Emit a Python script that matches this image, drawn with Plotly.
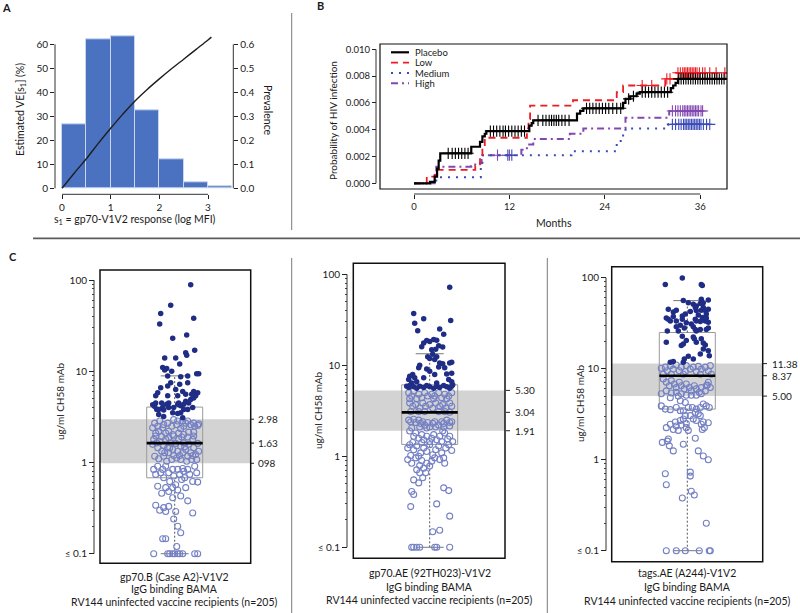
import math
import plotly.graph_objects as go

W, H = 800, 613
FONT = "Lato"

# ---------------- Panel A data ----------------
a_bin_edges = [0, 0.5, 1.0, 1.5, 2.0, 2.5, 3.0, 3.5]
a_prevalence = [0.267, 0.621, 0.633, 0.326, 0.121, 0.024, 0.007]
a_curve_s1 = [0, 0.25, 0.5, 0.75, 1.0, 1.25, 1.5, 1.75, 2.0, 2.25, 2.5, 2.75, 3.0, 3.07]
a_curve_ve = [0, 6.3, 12.3, 18.8, 25.0, 30.9, 36.4, 41.2, 45.6, 49.8, 53.8, 57.8, 61.8, 63.0]
a_x_ticks = [0, 1, 2, 3]
a_ve_ticks = [0, 10, 20, 30, 40, 50, 60]
a_prev_ticks = [0.0, 0.1, 0.2, 0.3, 0.4, 0.5, 0.6]

# ---------------- Panel B data (Kaplan-Meier steps) ----------------
b_month_ticks = [0, 12, 24, 36]
b_prob_ticks = [0.0, 0.002, 0.004, 0.006, 0.008, 0.010]
placebo_t = [0, 2.0, 2.6, 2.9, 3.1, 3.3, 7.2, 8.3, 8.6, 8.9, 9.1, 14.5, 14.8, 15.0, 20.5, 20.9, 21.3,
             26.3, 26.6, 27.2, 28.0, 28.4, 32.3, 32.6, 32.9, 33.2, 39.7]
placebo_p = [0, 0.0001, 0.0005, 0.0011, 0.0017, 0.00224, 0.00273, 0.0031, 0.0035, 0.0037, 0.0039,
             0.0043, 0.0045, 0.0047, 0.0052, 0.0054, 0.0056, 0.0060, 0.0063, 0.0065, 0.0067, 0.0068,
             0.0071, 0.0073, 0.0075, 0.0078, 0.0078]
low_t = [0, 1.6, 2.7, 7.7, 8.3, 8.6, 8.9, 14.2, 14.4, 14.6, 20.0, 25.5, 26.3, 31.6, 33.0, 39.7]
low_p = [0, 0.0005, 0.0010, 0.0013, 0.0020, 0.0027, 0.0034, 0.0041, 0.0048, 0.0058, 0.0062, 0.0068,
         0.0073, 0.0078, 0.00825, 0.00825]
medium_t = [0, 2.8, 8.4, 8.6, 19.8, 25.5, 26.0, 26.3, 26.6, 32.0, 37.4]
medium_p = [0, 0.00045, 0.0012, 0.0021, 0.0024, 0.0030, 0.0035, 0.0038, 0.0041, 0.0044, 0.0044]
high_t = [0, 2.6, 2.8, 7.2, 7.7, 8.5, 13.5, 14.2, 15.0, 19.6, 21.3, 26.6, 32.1, 36.4]
high_p = [0, 0.0009, 0.00124, 0.0013, 0.0015, 0.0021, 0.0025, 0.0029, 0.0033, 0.0037, 0.0041,
          0.0049, 0.0054, 0.0054]
placebo_cens = [4.3, 4.8, 5.2, 5.6, 6.0, 6.4, 6.8, 9.6, 10.0, 10.4, 10.8, 11.2, 11.5, 11.9, 12.3, 12.7,
                13.1, 13.5, 13.9, 15.6, 16.2, 16.6, 17.0, 17.3, 17.6, 17.9, 18.2, 18.6, 19.0, 19.5,
                21.7, 22.1, 22.5, 22.9, 23.3, 23.7, 24.1, 24.5, 25.0, 25.5, 26.0, 27.0, 27.6, 28.7,
                29.1, 29.5, 29.9, 30.3, 30.7, 31.1, 31.5, 31.9, 33.3, 33.6, 33.9, 34.2, 34.5, 34.8,
                35.1, 35.4, 35.7, 36.0, 36.3, 36.6, 36.9, 37.2, 37.5, 37.8, 38.1, 38.4, 38.7, 39.0]
low_cens = [28.7, 29.9, 31.8, 32.2, 33.2, 33.5, 33.8, 34.0, 34.2, 34.4, 34.6, 34.8, 35.0, 35.2, 35.4,
            35.6, 35.9, 36.3, 36.6, 37.2, 38.0, 39.1]
medium_cens = [11.8, 12.3, 32.5, 32.9, 33.3, 33.6, 33.9, 34.1, 34.3, 34.5, 34.7, 34.9, 35.1, 35.3,
               35.5, 35.7, 35.9, 36.1, 36.4, 36.8, 37.2]
high_cens = [10.5, 12.0, 32.5, 32.9, 33.2, 33.5, 33.8, 34.0, 34.2, 34.4, 34.6, 34.8, 35.0, 35.2,
             35.4, 35.6, 35.8, 36.1, 36.3]
b_groups = ["Placebo", "Low", "Medium", "High"]

# ---------------- Panel C data: (jitter, ug/ml) ----------------
c1_points = [
    (16, 89), (-4, 53), (-14, 43), (-15, 33), (19, 38), (12, 25), (-2, 23), (20, 17), (11, 16), (12, 15),
    (1, 14), (-10, 14), (5, 12), (-12, 11), (-8, 10.7), (-3, 10), (-10, 10.3), (22, 9.4), (24, 9.4), (-7, 8.9),
    (6, 8.7), (13, 8.9), (-17, 5.8), (-14, 6.6), (-7, 6.9), (-4, 7.5), (1, 6.3), (5, 7.2), (8, 6.0), (11, 5.6),
    (13, 7.5), (17, 5.6), (19, 6.0), (23, 5.8), (-7, 5.4), (-19, 5.4), (3, 5.4), (-22, 4.3), (-20, 4.1), (-18, 3.8),
    (-16, 3.8), (-12, 4.0), (-11, 3.75), (-8, 4.35), (-6, 4.0), (-2, 3.5), (-1, 4.0), (3, 4.35), (4, 4.5), (6, 4.2),
    (9, 4.35), (11, 4.7), (13, 3.8), (14, 4.5), (16, 4.9), (19, 5.1), (21, 5.4), (-16, 3.35), (-11, 3.2), (6, 3.5),
    (9, 3.8), (-6, 4.5), (-13, 4.5), (18, 4.0), (-19, 4.5), (3, 3.45), (8, 3.1),
    (-20, 2.7), (-17, 2.5), (-15, 2.85), (-12, 2.4), (-11, 2.6), (-7, 2.7), (-6, 2.2), (-3, 2.5), (-1, 2.95), (2, 2.6),
    (3, 2.85), (6, 2.35), (9, 2.5), (11, 2.7), (13, 2.85), (16, 2.6), (19, 2.7), (20, 2.5), (23, 2.55), (-19, 2.1),
    (-16, 2.2), (-9, 2.1), (-2, 2.03), (4, 2.1), (9, 2.03), (14, 2.15), (19, 2.15), (24, 2.65), (-22, 2.4), (8, 2.85),
    (-22, 1.58), (-21, 1.79), (-18, 1.64), (-17, 1.45), (-15, 1.7), (-13, 1.33), (-11, 1.54), (-9, 1.79), (-7, 1.45), (-6, 1.28),
    (-4, 1.64), (-2, 1.39), (-1, 1.19), (1, 1.62), (3, 1.33), (4, 1.79), (6, 1.51), (8, 1.28), (9, 1.64), (11, 1.39),
    (13, 1.17), (14, 1.58), (16, 1.28), (18, 1.79), (19, 1.45), (21, 1.22), (23, 1.62), (24, 1.33), (-20, 1.17), (-16, 1.1),
    (-11, 1.17), (-8, 1.03), (-3, 1.08), (2, 1.12), (6, 1.08), (12, 1.03), (17, 1.08), (22, 1.08), (-19, 1.95), (-13, 1.92),
    (-6, 1.87), (-1, 1.95), (7, 1.9), (13, 1.9), (19, 1.95), (-10, 1.28), (-5, 1.45), (5, 1.19), (10, 1.49), (18, 1.19),
    (-21, 0.84), (-19, 0.74), (-17, 0.91), (-14, 0.77), (-12, 0.84), (-11, 0.68), (-9, 0.91), (-6, 0.77), (-5, 0.62), (-2, 0.84),
    (-1, 0.71), (1, 0.57), (3, 0.84), (5, 0.74), (7, 0.65), (9, 0.8), (10, 0.68), (13, 0.84), (15, 0.74), (18, 0.62),
    (20, 0.91), (22, 0.77), (-17, 0.55), (-9, 0.53), (3, 0.5), (11, 0.53), (23, 0.61), (-6, 0.48), (8, 0.86), (-2, 0.53),
    (-19, 0.34), (-15, 0.3), (-11, 0.32), (-9, 0.29), (-6, 0.33), (-2, 0.41), (1, 0.29), (13, 0.38), (18, 0.28), (-13, 0.46),
    (6, 0.43), (-1, 0.24), (-12, 0.146), (-9, 0.146), (3, 0.2), (6, 0.17), (2, 0.12),
    (-21, 0.1), (-7, 0.1), (-5, 0.1), (-2, 0.1), (0, 0.1), (3, 0.1), (5, 0.1), (8, 0.1), (20, 0.1), (23, 0.1),
]
c2_points = [
    (20, 72), (-16, 37), (-6, 32.5), (-15, 29), (21, 31), (-12, 24), (10, 25), (14, 22), (-8, 16), (-6, 17.6),
    (-3, 18.7), (0, 18.3), (4, 19.2), (7, 18.8), (9, 16.4), (13, 15.9), (6, 15), (2, 14.8), (-2, 12.4), (0, 11.9),
    (3, 13.2), (5, 11.6), (7, 12.4), (10, 10.6), (13, 10.4), (20, 10.6), (22, 10.8), (-10, 10), (-11, 9.4), (-3, 9.1),
    (0, 8.6), (9, 9.6), (15, 9.4), (17, 8.0), (22, 8.2), (-17, 7.9), (-20, 7.6), (-15, 7.3), (-6, 7.3), (5, 7.9),
    (-21, 7.0), (-18, 6.4), (-13, 6.6), (7, 6.4), (19, 7.0), (22, 6.6), (23, 6.1),
    (-23, 5.9), (-21, 5.7), (-20, 6.0), (-16, 5.8), (-13, 5.6), (-10, 5.9), (-6, 5.7), (-3, 6.0), (0, 5.8), (4, 5.6),
    (7, 5.9), (10, 5.7), (14, 6.0), (17, 5.8), (20, 5.6), (22, 5.9),
    (-21, 5.0), (-18, 4.6), (-16, 5.2), (-11, 4.8), (-8, 4.4), (-5, 5.0), (-2, 4.6), (2, 4.8), (5, 4.6), (9, 5.0),
    (12, 4.4), (15, 4.8), (19, 4.6), (22, 5.0), (-20, 4.3), (-13, 4.3), (4, 4.3), (17, 4.3),
    (-20, 3.85), (-17, 3.55), (-14, 3.7), (-10, 3.4), (-7, 3.85), (-4, 3.55), (0, 3.7), (3, 3.4), (6, 3.85), (10, 3.55),
    (13, 3.7), (16, 3.4), (20, 3.85), (22, 3.55), (-19, 3.1), (-11, 3.1), (-5, 3.1), (9, 3.1), (15, 3.1), (20, 3.05),
    (-21, 2.5), (-19, 2.4), (-16, 2.55), (-14, 2.35), (-11, 2.5), (-9, 2.3), (-7, 2.4), (-5, 2.2), (-2, 2.35), (0, 2.1),
    (3, 2.3), (5, 2.4), (9, 2.2), (12, 2.4), (14, 2.3), (17, 2.5), (20, 2.35), (22, 2.4), (-18, 2.05), (-10, 2.1),
    (-3, 2.05), (6, 2.1), (14, 2.1), (20, 2.15),
    (-20, 1.9), (-16, 1.66), (-14, 1.8), (-11, 1.58), (-8, 1.73), (-6, 1.52), (-3, 1.66), (0, 1.45), (2, 1.58), (4, 1.73),
    (7, 1.52), (10, 1.66), (12, 1.45), (15, 1.8), (18, 1.55), (20, 1.66), (23, 1.45), (-17, 1.42), (-8, 1.42), (13, 1.9),
    (-22, 1.23), (-20, 1.34), (-16, 1.18), (-13, 1.3), (-9, 1.09), (-6, 1.23), (-3, 1.13), (0, 1.34), (3, 1.04), (6, 1.18),
    (9, 1.3), (12, 1.09), (16, 1.23), (19, 1.34), (22, 1.16), (-19, 1.02), (-11, 1.0),
    (-22, 0.92), (-18, 0.84), (-14, 0.96), (-10, 0.79), (-8, 0.9), (-6, 0.74), (-3, 0.84), (0, 0.78), (2, 0.88), (5, 0.96),
    (10, 0.92), (14, 0.96), (15, 0.84), (-10, 0.66), (-13, 0.71), (-16, 0.55), (-11, 0.51), (-4, 0.66), (-7, 0.58),
    (-18, 0.41), (-16, 0.38), (-19, 0.28), (7, 0.3), (14, 0.45), (19, 0.42),
    (3, 0.148), (10, 0.154), (20, 0.22),
    (-18, 0.1), (-16, 0.1), (-13, 0.1), (-10, 0.1), (5, 0.1), (7, 0.1), (20, 0.1),
]
c3_points = [
    (-22, 84), (-5, 99), (14, 84), (15, 82), (-4, 56), (1, 53), (6, 51), (9, 49), (13, 52), (14, 58),
    (16, 53), (21, 57), (-19, 45), (-14, 42), (-11, 44), (-5, 38), (-2, 40), (3, 42.5), (8, 47), (9, 43.5),
    (11, 39), (14, 44), (16, 47), (18, 43.5), (19, 40), (21, 45), (-21, 36), (-19, 35), (-17, 33.5), (-14, 37.5),
    (-11, 33.5), (-7, 30), (-5, 35), (-1, 32), (4, 31), (8, 35), (9, 33.5), (13, 33), (15, 36.5), (18, 33.5),
    (19, 36), (21, 32.3), (-20, 26), (-11, 29), (-9, 26), (-3, 28), (6, 29), (8, 27), (9, 26), (13, 27),
    (19, 27), (21, 28), (-21, 19.5), (-6, 18), (-4, 18.7), (-1, 20.4), (6, 22.3), (7, 21.3), (9, 19.5), (14, 21.3),
    (16, 19.2), (18, 18.2), (21, 15.8), (-5, 22.8), (-17, 11.8), (-14, 12), (-3, 12.8), (1, 13.7), (6, 12.8), (13, 14.5),
    (16, 16.5), (22, 13.9), (-4, 11.8),
    (-26, 10.1), (-22, 10.4), (-20, 9.5), (-17, 10.8), (-14, 9.9), (-11, 11.0), (-8, 9.5), (-6, 10.4), (-2, 9.3), (-1, 10.8),
    (3, 9.9), (6, 10.4), (9, 9.3), (11, 10.6), (14, 9.9), (18, 10.4), (21, 9.5), (23, 10.8), (24, 8.7), (-24, 8.7),
    (-16, 8.7), (-4, 8.7), (13, 8.7),
    (-24, 7.7), (-21, 7.1), (-18, 6.5), (-16, 7.4), (-13, 6.8), (-11, 6.2), (-8, 7.1), (-6, 6.5), (-3, 6.0), (-1, 6.8),
    (2, 6.2), (4, 5.7), (7, 6.5), (9, 6.0), (12, 5.5), (14, 6.2), (18, 5.7), (20, 6.6), (23, 6.2), (-21, 5.7),
    (-16, 5.4), (-11, 5.5), (-6, 5.3), (-1, 5.1), (4, 5.1), (9, 5.1), (14, 5.3), (-26, 5.3), (-17, 4.8), (-9, 5.0),
    (19, 6.5), (21, 7.1),
    (-26, 3.9), (-22, 3.6), (-17, 3.55), (-11, 3.75), (-7, 3.45), (-4, 3.45), (1, 3.75), (5, 3.75), (9, 3.6), (13, 3.75),
    (16, 4.1), (19, 3.9), (22, 3.75), (-2, 4.25), (-7, 4.45),
    (-21, 2.25), (-17, 2.45), (-12, 2.6), (-11, 2.35), (-9, 2.1), (-7, 2.7), (-6, 2.4), (-4, 2.8), (-1, 2.5), (-1, 2.25),
    (1, 2.1), (3, 3.05), (6, 2.8), (9, 2.7), (11, 3.2), (13, 3.05), (14, 2.45), (16, 2.6), (17, 2.25), (21, 2.55),
    (-2, 3.05), (8, 3.3), (-14, 2.15), (15, 2.15),
    (-20, 1.6), (-18, 1.42), (-14, 1.25), (-4, 1.48), (8, 1.72), (11, 1.25), (16, 1.1), (21, 1.0), (-25, 1.55), (-19, 1.69),
    (-22, 0.7), (-21, 0.53), (3, 0.73), (3, 0.66), (4, 0.45), (7, 0.41), (-5, 0.38),
    (19, 0.2),
    (-21, 0.1), (-11, 0.1), (-2, 0.1), (12, 0.1), (22, 0.1), (23, 0.1),
]
# box statistics: q1, median, q3, lower whisker, upper whisker
c1_box = [0.68, 1.63, 4.05, 0.1, 8.9]
c2_box = [1.35, 3.04, 6.1, 0.1, 13.4]
c3_box = [3.6, 8.37, 25.0, 0.1, 56.0]
c1_band = [0.98, 1.63, 2.98]
c2_band = [1.91, 3.04, 5.30]
c3_band = [5.00, 8.37, 11.38]
c1_band_labels = ["098", "1.63", "2.98"]
c2_band_labels = ["1.91", "3.04", "5.30"]
c3_band_labels = ["5.00", "8.37", "11.38"]
c_captions = [
    ["gp70.B (Case A2)-V1V2", "IgG binding BAMA", "RV144 uninfected vaccine recipients (n=205)"],
    ["gp70.AE (92TH023)-V1V2", "IgG binding BAMA", "RV144 uninfected vaccine recipients (n=205)"],
    ["tags.AE (A244)-V1V2", "IgG binding BAMA", "RV144 uninfected vaccine recipients (n=205)"],
]
c_y_tickvals = [0.1, 1, 10, 100]
c_y_ticktext = ["≤ 0.1", "1", "10", "100"]


def px(x):
    return x / W


def py(y):
    return 1 - y / H


fig = go.Figure()
shapes = []
annotations = []


def text(x, y, s, size=10, angle=0, xanchor="center", yanchor="middle", bold=False,
         xref="paper", yref="paper", xv=None, yv=None):
    annotations.append(dict(x=px(x) if xv is None else xv, y=py(y) if yv is None else yv,
                            xref=xref, yref=yref, text=("<b>%s</b>" % s) if bold else s,
                            showarrow=False, textangle=angle, xanchor=xanchor, yanchor=yanchor,
                            font=dict(family=FONT, size=size, color="#1a1a1a")))


def pline(x0, y0, x1, y1, color="#333", width=1, dash=None, xref="paper", yref="paper"):
    d = dict(type="line", x0=x0, y0=y0, x1=x1, y1=y1, xref=xref, yref=yref,
             line=dict(color=color, width=width))
    if dash:
        d["line"]["dash"] = dash
    shapes.append(d)


axis_common = dict(showgrid=False, zeroline=False, showline=False, ticks="outside", ticklen=4,
                   tickcolor="#222", tickwidth=1, tickfont=dict(family=FONT, size=10, color="#1a1a1a"))

# ---------------- Panel A ----------------
centers = [(a_bin_edges[i] + a_bin_edges[i + 1]) / 2 for i in range(len(a_prevalence))]
widths = [a_bin_edges[i + 1] - a_bin_edges[i] for i in range(len(a_prevalence))]
fig.add_trace(go.Bar(x=centers, y=a_prevalence, width=widths, xaxis="x", yaxis="y",
                     marker=dict(color="#4a72c0", line=dict(color="#c9d6ee", width=1))))
fig.add_trace(go.Scatter(x=a_curve_s1, y=a_curve_ve, xaxis="x", yaxis="y2", mode="lines",
                         line=dict(color="#1e1e1e", width=1.4, shape="spline")))
pline(0, py(194.3), 3, py(194.3), xref="x")
pline(px(55), 0, px(55), 60, yref="y2")
pline(px(233.3), 0, px(233.3), 0.6, yref="y")
text(21, 110, "Estimated VE[s<sub>1</sub>] (%)", size=10.5, angle=-90)
text(268, 110, "Prevalence", size=10.5, angle=90)
text(135, 220, "s<sub>1</sub> = gp70-V1V2 response (log MFI)", size=10.5)
text(6, 7, "A", size=11, bold=True)

# ---------------- Panel B ----------------
def step_at(ts, vs, t):
    v = vs[0]
    for ti, vi in zip(ts, vs):
        if ti <= t:
            v = vi
    return v


b_series = [
    (placebo_t, placebo_p, placebo_cens, "#000000", 2.2, None),
    (low_t, low_p, low_cens, "#ee1c24", 1.8, "7px,5px"),
    (medium_t, medium_p, medium_cens, "#3b4bb8", 2.0, "2px,6px"),
    (high_t, high_p, high_cens, "#8348b0", 2.0, "7px,4px,2px,4px"),
]
for ts, vs, cens, col, lw, dash in b_series[::-1]:
    ln = dict(color=col, width=lw, shape="hv")
    if dash:
        ln["dash"] = dash
    fig.add_trace(go.Scatter(x=ts, y=vs, xaxis="x2", yaxis="y3", mode="lines", line=ln))
    fig.add_trace(go.Scatter(x=cens, y=[step_at(ts, vs, t) for t in cens], xaxis="x2", yaxis="y3",
                             mode="markers", marker=dict(symbol="cross-thin", size=8,
                                                         line=dict(color=col, width=1.1))))
shapes.append(dict(type="rect", xref="x2 domain", yref="y3 domain", x0=0, x1=1, y0=0, y1=1,
                   line=dict(color="#111", width=1.2)))
pline(0, py(194), 36, py(194), xref="x2")
pline(px(376), 0, px(376), 0.010, yref="y3")
for i, (name, s) in enumerate(zip(b_groups, b_series)):
    yy = 52.3 + i * 10.35
    pline(px(391), py(yy), px(409), py(yy), color=s[3], width=s[4], dash=s[5])
    text(413, yy, name, size=9.5, xanchor="left")
text(333, 121, "Probability of HIV infection", size=10, angle=-90)
text(554, 223, "Months", size=10.5)
text(320, 6, "B", size=11, bold=True)

# separators
pline(px(33), py(238.3), px(800), py(238.3), color="#5c5c5c", width=1.8)
pline(px(291.7), py(13), px(291.7), py(230), color="#7a7a7a", width=1)
pline(px(291.7), py(258), px(291.7), py(613), color="#7a7a7a", width=1)
pline(px(547.3), py(258), px(547.3), py(613), color="#7a7a7a", width=1)
text(12.7, 256.7, "C", size=11, bold=True)

# ---------------- Panel C ----------------
minor_vals = [m * d for d in (0.1, 1, 10) for m in range(2, 10)]
c_panels = [
    dict(pts=c1_points, box=c1_box, band=c1_band, labels=c1_band_labels, cap=c_captions[0],
         xdom=(100, 250.7), ydom=(270, 563.3), xr=(-74.7, 76), yr=(-1.105, 2.11), axx=94,
         title=(60, 401), capy=(576.7, 589.3, 601.7), tick=(250.7, 254, 255.5)),
    dict(pts=c2_points, box=c2_box, band=c2_band, labels=c2_band_labels, cap=c_captions[1],
         xdom=(353.3, 505), ydom=(263.3, 558.3), xr=(-76.4, 75.3), yr=(-1.121, 2.121), axx=347,
         title=(318, 410), capy=(573.3, 586.7, 600), tick=(506, 510, 513)),
    dict(pts=c3_points, box=c3_box, band=c3_band, labels=c3_band_labels, cap=c_captions[2],
         xdom=(611.7, 762.7), ydom=(266.7, 561.7), xr=(-75.6, 75.4), yr=(-1.121, 2.121), axx=606,
         title=(580, 403), capy=(573.3, 586.7, 601), tick=(763, 767, 769.5)),
]
layout_axes = {}
HALF = 28
CAP = 14
for k, p in enumerate(c_panels):
    xn = 3 + k
    yl = 4 + k
    xa, ya = "x%d" % xn, "y%d" % yl
    r0, r1 = p["yr"]

    def frac(v, r0=r0, r1=r1):
        return (math.log10(v) - r0) / (r1 - r0)

    lo, mid, hi = p["band"]
    shapes.append(dict(type="rect", xref=xa + " domain", yref=ya + " domain", x0=0, x1=1,
                       y0=frac(lo), y1=frac(hi), fillcolor="#d3d3d3", line=dict(width=0), layer="below"))
    q1, med, q3, wlo, whi = p["box"]
    fig.add_trace(go.Scatter(x=[-HALF, HALF, HALF, -HALF, -HALF], y=[q1, q1, q3, q3, q1], xaxis=xa, yaxis=ya,
                             mode="lines", line=dict(color="#9a9a9a", width=1)))
    fig.add_trace(go.Scatter(x=[0, 0, None, 0, 0], y=[q3, whi, None, wlo, q1], xaxis=xa, yaxis=ya,
                             mode="lines", line=dict(color="#555", width=1, dash="2px,2px")))
    fig.add_trace(go.Scatter(x=[-CAP, CAP, None, -CAP, CAP], y=[whi, whi, None, wlo, wlo], xaxis=xa, yaxis=ya,
                             mode="lines", line=dict(color="#777", width=1)))
    js = [a for a, b in p["pts"]]
    vs = [b for a, b in p["pts"]]
    op = [(a, b) for a, b in zip(js, vs) if b <= hi]
    fl = [(a, b) for a, b in zip(js, vs) if b > hi]
    fig.add_trace(go.Scatter(x=[a for a, b in op], y=[b for a, b in op], xaxis=xa, yaxis=ya, mode="markers",
                             marker=dict(symbol="circle-open", size=6, color="#7480c4", line=dict(width=1.1))))
    fig.add_trace(go.Scatter(x=[a for a, b in fl], y=[b for a, b in fl], xaxis=xa, yaxis=ya, mode="markers",
                             marker=dict(symbol="circle", size=5.5, color="#1f2d86")))
    fig.add_trace(go.Scatter(x=[-HALF, HALF], y=[med, med], xaxis=xa, yaxis=ya, mode="lines",
                             line=dict(color="#000", width=2.6)))
    shapes.append(dict(type="rect", xref=xa + " domain", yref=ya + " domain", x0=0, x1=1, y0=0, y1=1,
                       line=dict(color="#111", width=1.5)))
    pline(px(p["axx"]), frac(0.1), px(p["axx"]), frac(100), yref=ya + " domain")
    # right-hand band labels with small ticks
    t0, t1, tx = p["tick"]
    for v, lab in zip(p["band"], p["labels"]):
        pline(px(t0), frac(v), px(t1), frac(v), color="#222", width=1, yref=ya + " domain")
        text(tx, 0, lab, size=10, xanchor="left", yref=ya + " domain", yv=frac(v))

    layout_axes["xaxis%d" % xn] = dict(domain=[px(p["xdom"][0]), px(p["xdom"][1])], range=list(p["xr"]),
                                        visible=False, anchor=ya)
    layout_axes["yaxis%d" % yl] = dict(axis_common, domain=[py(p["ydom"][1]), py(p["ydom"][0])], type="log",
                                        range=[r0, r1], anchor="free", position=px(p["axx"]),
                                        tickvals=c_y_tickvals, ticktext=c_y_ticktext, ticklen=5,
                                        minor=dict(tickvals=minor_vals, ticks="outside", ticklen=2.5,
                                                   tickcolor="#444", showgrid=False))
    text(p["title"][0], p["title"][1], "ug/ml CH58 mAb", size=10, angle=-90)
    cx = (p["xdom"][0] + (0 - p["xr"][0]) / (p["xr"][1] - p["xr"][0]) * (p["xdom"][1] - p["xdom"][0]))
    for line_txt, yy in zip(p["cap"], p["capy"]):
        text(cx, yy, line_txt, size=10.5)

fig.update_layout(
    width=W, height=H, margin=dict(l=0, r=0, t=0, b=0), showlegend=False,
    paper_bgcolor="white", plot_bgcolor="rgba(0,0,0,0)",
    font=dict(family=FONT, size=10, color="#1a1a1a"),
    bargap=0,
    xaxis=dict(axis_common, domain=[px(55), px(233.3)], range=[-0.144, 3.52], anchor="y", tickvals=a_x_ticks),
    yaxis=dict(axis_common, domain=[py(194.3), py(32.3)], side="right", anchor="x", range=[-0.025, 0.65],
               tickvals=a_prev_ticks, tickformat=".1f"),
    yaxis2=dict(axis_common, overlaying="y", side="left", anchor="x", range=[-2.5, 65], tickvals=a_ve_ticks),
    xaxis2=dict(axis_common, domain=[px(380), px(727)], range=[-4.28, 39.37], anchor="free",
                position=py(194), tickvals=b_month_ticks, tickfont=dict(family=FONT, size=9.5)),
    yaxis3=dict(axis_common, domain=[py(189), py(44)], range=[-0.000425, 0.0104], anchor="free",
                position=px(376), tickvals=b_prob_ticks, tickformat=".3f", tickfont=dict(family=FONT, size=9.5)),
    shapes=shapes, annotations=annotations,
    **layout_axes,
)
fig.write_html("out.html", config={"displayModeBar": False},
               post_script="document.body.style.margin='0px';document.body.style.overflow='hidden';")
